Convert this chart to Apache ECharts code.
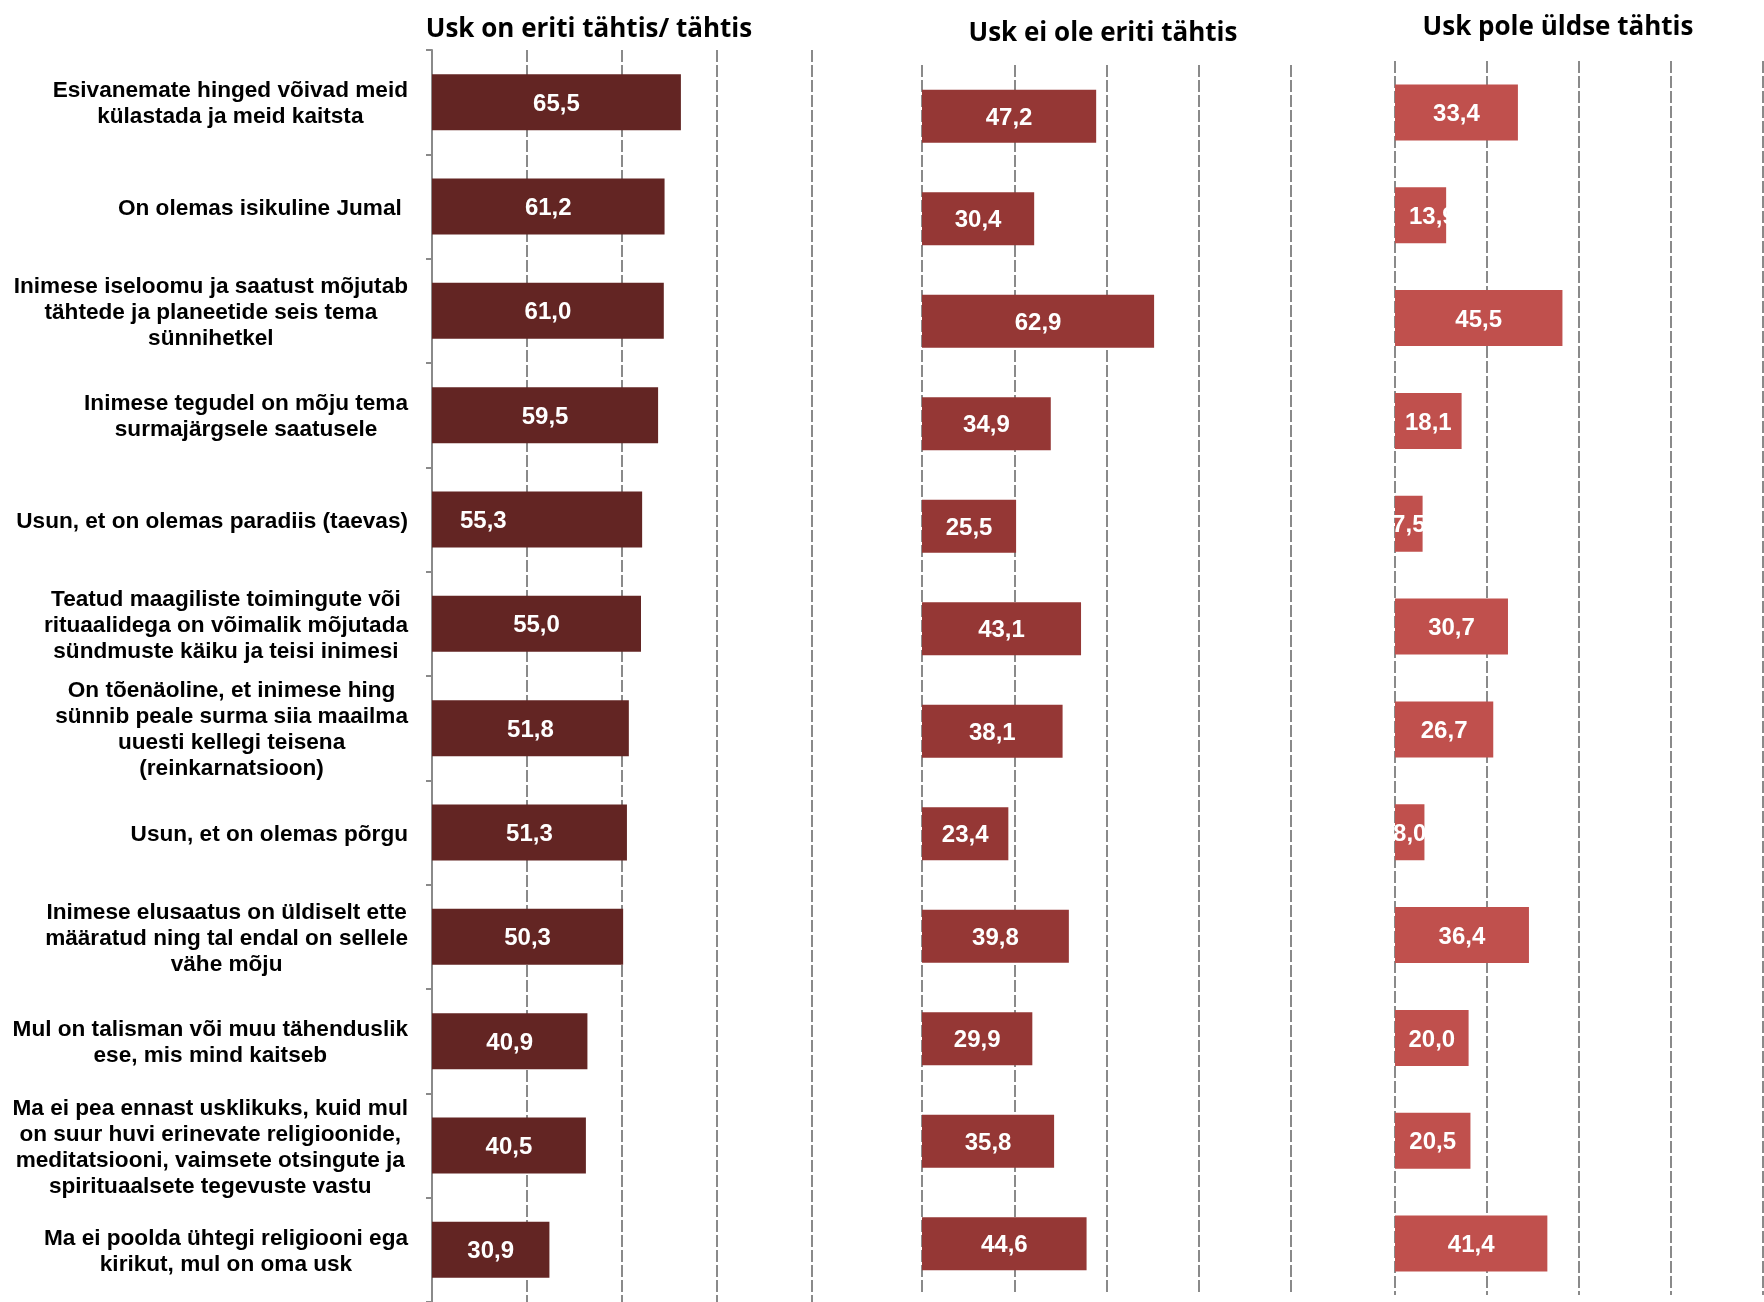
<!DOCTYPE html>
<html>
<head>
<meta charset="utf-8">
<script src="https://cdn.jsdelivr.net/npm/echarts@6/dist/echarts.min.js"></script>
<style>
  html, body { margin: 0; padding: 0; background: #fff; }
  #main { width: 1764px; height: 1302px; }
</style>
</head>
<body>
<div id="main"></div>
<script>
var categories = [
    'Esivanemate hinged võivad meid\nkülastada ja meid kaitsta',
    'On olemas isikuline Jumal ',
    'Inimese iseloomu ja saatust mõjutab\ntähtede ja planeetide seis tema\nsünnihetkel',
    'Inimese tegudel on mõju tema\nsurmajärgsele saatusele',
    'Usun, et on olemas paradiis (taevas)',
    'Teatud maagiliste toimingute või\nrituaalidega on võimalik mõjutada\nsündmuste käiku ja teisi inimesi',
    'On tõenäoline, et inimese hing\nsünnib peale surma siia maailma\nuuesti kellegi teisena\n(reinkarnatsioon)',
    'Usun, et on olemas põrgu',
    'Inimese elusaatus on üldiselt ette\nmääratud ning tal endal on sellele\nvähe mõju',
    'Mul on talisman või muu tähenduslik\nese, mis mind kaitseb',
    'Ma ei pea ennast usklikuks, kuid mul\non suur huvi erinevate religioonide,\nmeditatsiooni, vaimsete otsingute ja\nspirituaalsete tegevuste vastu',
    'Ma ei poolda ühtegi religiooni ega\nkirikut, mul on oma usk'
];

var veryImportant = [65.5, 61.2, 61.0, 59.5, 55.3, 55.0, 51.8, 51.3, 50.3, 40.9, 40.5, 30.9];
var notVeryImportant = [47.2, 30.4, 62.9, 34.9, 25.5, 43.1, 38.1, 23.4, 39.8, 29.9, 35.8, 44.6];
var notAtAllImportant = [33.4, 13.9, 45.5, 18.1, 7.5, 30.7, 26.7, 8.0, 36.4, 20.0, 20.5, 41.4];

var panelTitles = ['Usk on eriti tähtis/ tähtis', 'Usk ei ole eriti tähtis', 'Usk pole üldse tähtis'];
var panelColors = ['#632523', '#953735', '#C0504D'];

var chartDom = document.getElementById('main');
var myChart = echarts.init(chartDom);

var gridColor = '#8a8a8a';

function fmt(v) {
    return v.toFixed(1).replace('.', ',');
}

// ühe paneeli tulbad
function makeSeries(values, idx) {
    return {
        type: 'bar',
        xAxisIndex: idx,
        yAxisIndex: idx,
        barWidth: idx === 1 ? 53 : 56,
        itemStyle: { color: panelColors[idx] },
        label: {
            show: true,
            position: 'inside',
            offset: [0, 2],
            color: '#fff',
            fontFamily: 'Liberation Sans',
            fontWeight: 'bold',
            fontSize: 24,
            formatter: function (p) { return fmt(p.value); }
        },
        data: values.map(function (v, i) {
            // mõned sildid on joonisel keskelt nihutatud
            if (idx === 0 && i === 4) {
                return { value: v, label: { position: 'insideLeft', distance: 28 } };
            }
            if (idx === 2 && i === 1) {
                return { value: v, label: { position: 'insideLeft', distance: 14 } };
            }
            return v;
        })
    };
}

var grids = [
    { left: 432, top: 50, width: 380, height: 1252 },
    { left: 922, top: 65, width: 369, height: 1230 },
    { left: 1395, top: 61, width: 368, height: 1234 }
];

var option = {
    backgroundColor: '#fff',
    animation: false,
    title: [
        { text: panelTitles[0], left: 584, top: 12, textAlign: 'center' },
        { text: panelTitles[1], left: 1098, top: 16, textAlign: 'center' },
        { text: panelTitles[2], left: 1553, top: 10, textAlign: 'center' }
    ].map(function (t) {
        t.textStyle = { fontFamily: 'Open Sans', fontWeight: 'bold', fontSize: 26, color: '#000' };
        return t;
    }),
    grid: grids,
    xAxis: grids.map(function (g, i) {
        return {
            type: 'value',
            gridIndex: i,
            min: 0,
            max: 100,
            interval: 25,
            axisLine: { show: false },
            axisTick: { show: false },
            axisLabel: { show: false },
            splitLine: { show: true, lineStyle: { color: gridColor, width: 2, type: [12, 3] } }
        };
    }),
    yAxis: grids.map(function (g, i) {
        var first = i === 0;
        return {
            type: 'category',
            gridIndex: i,
            inverse: true,
            data: categories,
            axisLine: { show: first, lineStyle: { color: gridColor, width: 2 } },
            axisTick: { show: first, length: 6, lineStyle: { color: gridColor, width: 2 } },
            axisLabel: {
                show: first,
                margin: 24,
                align: 'right',
                padding: [4, 0, 0, 0],
                formatter: function (v) {
                    return v.split('\n').map(function (s) { return '{c|' + s + '}'; }).join('\n');
                },
                rich: {
                    c: {
                        align: 'center',
                        fontFamily: 'Liberation Sans',
                        fontWeight: 'bold',
                        fontSize: 22.6,
                        lineHeight: 26,
                        color: '#000'
                    }
                }
            },
            splitLine: { show: false }
        };
    }),
    series: [
        makeSeries(veryImportant, 0),
        makeSeries(notVeryImportant, 1),
        makeSeries(notAtAllImportant, 2)
    ]
};

option && myChart.setOption(option);
</script>
</body>
</html>
